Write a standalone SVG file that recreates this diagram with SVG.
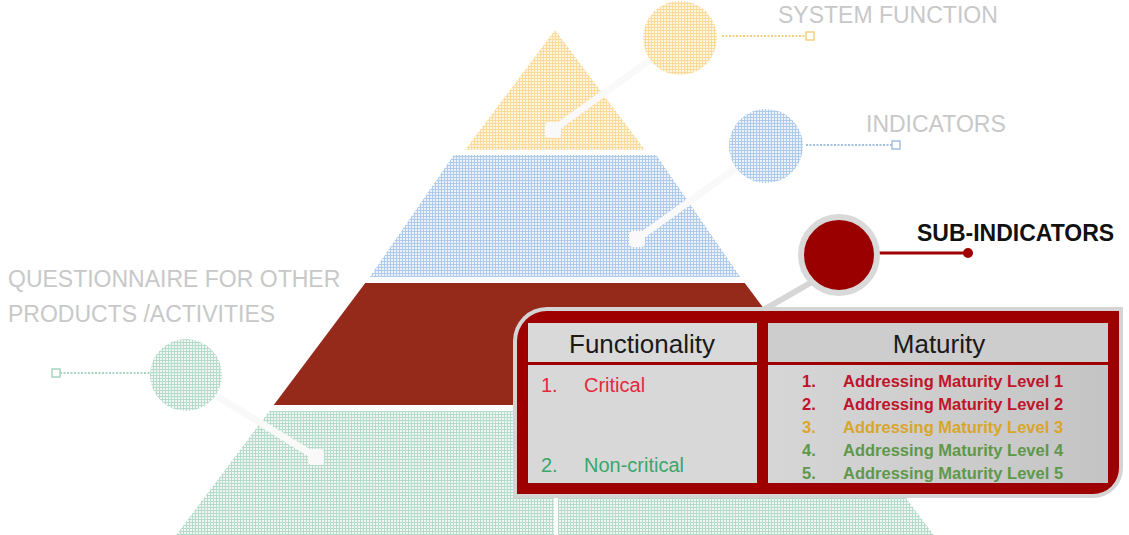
<svg xmlns="http://www.w3.org/2000/svg" width="1129" height="535" viewBox="0 0 1129 535">
<defs>
<pattern id="pY" width="3" height="3" patternUnits="userSpaceOnUse"><rect width="3" height="3" fill="#fef5e0"/><path d="M0 0.5H3M0.5 0V3" stroke="#f9da98" stroke-width="1"/></pattern>
<pattern id="pB" width="3" height="3" patternUnits="userSpaceOnUse"><rect width="3" height="3" fill="#ebf2fa"/><path d="M0 0.5H3M0.5 0V3" stroke="#b0cbe9" stroke-width="1"/></pattern>
<pattern id="pG" width="3" height="3" patternUnits="userSpaceOnUse"><rect width="3" height="3" fill="#eef7f3"/><path d="M0 0.5H3M0.5 0V3" stroke="#b6dbca" stroke-width="1"/></pattern>
<linearGradient id="gR" x1="0" y1="0" x2="1" y2="0"><stop offset="0" stop-color="#d6d6d6"/><stop offset="1" stop-color="#c4c4c4"/></linearGradient>
<style>
.lbl{font-family:"Liberation Sans",Arial,sans-serif;font-size:23px;fill:#c8c8c8;}
.hd{font-family:"Liberation Sans",Arial,sans-serif;font-size:26px;fill:#1a1a1a;text-anchor:middle;}
.fn{font-family:"Liberation Sans",Arial,sans-serif;font-size:20px;}
.mt{font-family:"Liberation Sans",Arial,sans-serif;font-size:16.5px;font-weight:bold;}
.wl{stroke:#f9f9f9;stroke-width:7;stroke-linecap:round;fill:none;}
.wb{fill:#f9f9f9;}
</style>
</defs>
<rect width="1129" height="535" fill="#ffffff"/>

<g id="pyramid">
<polygon id="tier-yellow" points="555,30 645,150 465,150" fill="url(#pY)"/>
<polygon id="tier-blue" points="453.75,155 656.25,155 740.25,277 369.75,277" fill="url(#pB)"/>
<polygon id="tier-red" points="365.25,283 744.75,283 836.25,405 273.75,405" fill="#952a1b"/>
<polygon id="tier-green" points="269.25,411 840.75,411 933.75,535 176.25,535" fill="url(#pG)"/>
<line x1="556" y1="411" x2="556" y2="535" stroke="#ffffff" stroke-width="4"/>
</g>

<g id="connectors">
<line class="wl" x1="650" y1="60" x2="553" y2="130"/>
<rect class="wb" x="545" y="122" width="16" height="16" rx="4"/>
<line class="wl" x1="736" y1="168" x2="637" y2="239"/>
<rect class="wb" x="629" y="231" width="16" height="16" rx="4"/>
<line class="wl" x1="215" y1="395" x2="316" y2="457"/>
<rect class="wb" x="308" y="449" width="16" height="16" rx="4"/>
<line x1="812" y1="282" x2="758" y2="313" stroke="#d6d6d6" stroke-width="6"/>
<line x1="722" y1="36" x2="806" y2="36" stroke="#f3cf84" stroke-width="2" stroke-dasharray="2 1.5"/>
<rect x="806" y="32" width="8" height="8" fill="none" stroke="#f3cf84" stroke-width="1.5"/>
<line x1="806" y1="145" x2="892" y2="145" stroke="#a3c1e2" stroke-width="2" stroke-dasharray="2 1.5"/>
<rect x="892" y="141" width="8" height="8" fill="none" stroke="#a3c1e2" stroke-width="1.5"/>
<line x1="60" y1="373" x2="150" y2="373" stroke="#a9d3bf" stroke-width="2" stroke-dasharray="2 1.5"/>
<rect x="52" y="369" width="8" height="8" fill="none" stroke="#a9d3bf" stroke-width="1.5"/>
<line x1="877" y1="253" x2="968" y2="253" stroke="#a00000" stroke-width="3"/>
<circle cx="968" cy="253" r="5" fill="#a00000"/>
</g>

<g id="node-system-function">
<circle cx="680" cy="38" r="37" fill="url(#pY)"/>
<text class="lbl" x="778" y="23">SYSTEM FUNCTION</text>
</g>

<g id="node-indicators">
<circle cx="766" cy="146" r="37" fill="url(#pB)"/>
<text class="lbl" x="866" y="132">INDICATORS</text>
</g>

<g id="node-questionnaire">
<circle cx="186" cy="375" r="36" fill="url(#pG)"/>
<text class="lbl" x="8" y="287">QUESTIONNAIRE FOR OTHER</text>
<text class="lbl" x="8" y="322">PRODUCTS /ACTIVITIES</text>
</g>

<g id="node-sub-indicators">
<circle cx="839" cy="255" r="38" fill="#9b0000" stroke="#d9d9d9" stroke-width="6"/>
<text x="917" y="241" font-family="'Liberation Sans',Arial,sans-serif" font-size="23" font-weight="bold" fill="#111111">SUB-INDICATORS</text>
</g>

<g id="node-table">
<path d="M513,341 A34,34 0 0 1 547,307 H1123 V468 A30,30 0 0 1 1093,498 H513 Z" fill="#d4d4d4"/>
<path d="M517,341 A30,30 0 0 1 547,311 H1119 V468 A26,26 0 0 1 1093,494 H517 Z" fill="#9e0000"/>
<rect x="528" y="323" width="229" height="39" fill="#d9d9d9"/>
<rect x="528" y="365" width="229" height="118" fill="#d8d8d8"/>
<rect x="768" y="323" width="340" height="39" fill="#cdcdcd"/>
<rect x="768" y="365" width="340" height="118" fill="url(#gR)"/>
<text class="hd" x="642" y="353">Functionality</text>
<text class="hd" x="939" y="353">Maturity</text>
<g class="fn" fill="#e6283c"><text x="541" y="392">1.</text><text x="584" y="392">Critical</text></g>
<g class="fn" fill="#3aa66a"><text x="541" y="472">2.</text><text x="584" y="472">Non-critical</text></g>
<g class="mt" fill="#c0142a"><text x="802" y="387">1.</text><text x="843" y="387">Addressing Maturity Level 1</text></g>
<g class="mt" fill="#c0142a"><text x="802" y="410">2.</text><text x="843" y="410">Addressing Maturity Level 2</text></g>
<g class="mt" fill="#d8a62a"><text x="802" y="433">3.</text><text x="843" y="433">Addressing Maturity Level 3</text></g>
<g class="mt" fill="#5e984a"><text x="802" y="456">4.</text><text x="843" y="456">Addressing Maturity Level 4</text></g>
<g class="mt" fill="#5e984a"><text x="802" y="479">5.</text><text x="843" y="479">Addressing Maturity Level 5</text></g>
</g>
</svg>
